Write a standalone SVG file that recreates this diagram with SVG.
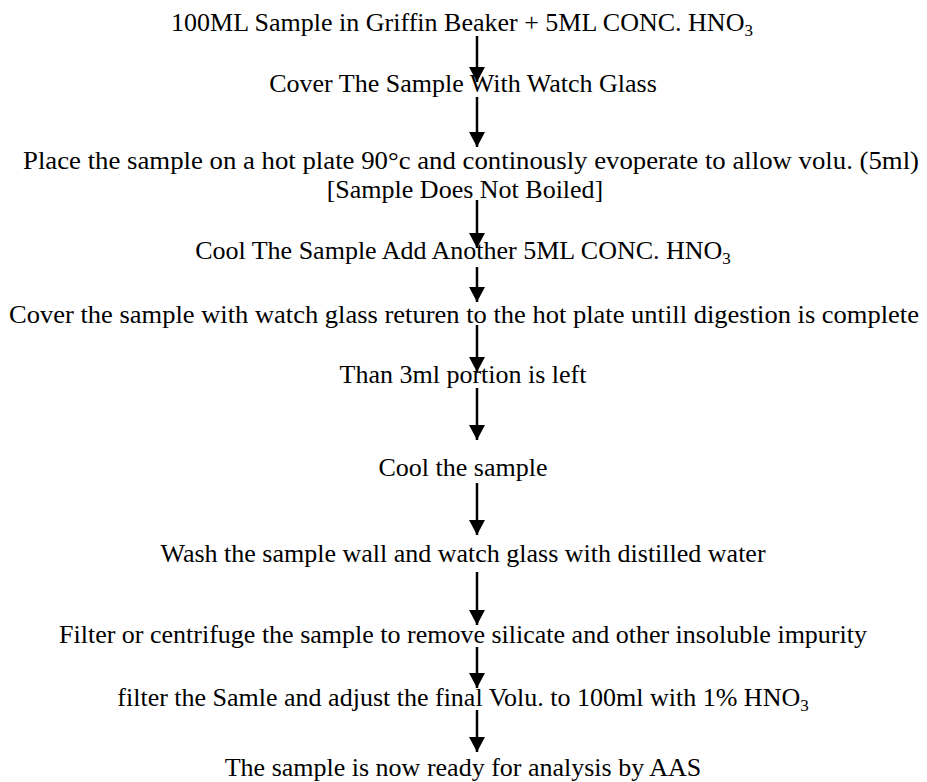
<svg xmlns="http://www.w3.org/2000/svg" width="927" height="782" viewBox="0 0 927 782">
<style>
text{font-family:"Liberation Serif","Times New Roman",serif;font-size:26px;fill:#000;text-anchor:middle}
.sub{font-size:17px}
.c{stroke:#000;stroke-width:2.5;fill:none}
</style>
<defs>
<marker id="ah" markerUnits="userSpaceOnUse" markerWidth="16" markerHeight="16" refX="15" refY="8" orient="auto">
<path d="M0,0 L15,8 L0,16 z" fill="#000"/>
</marker>
</defs>
<rect width="927" height="782" fill="#fff"/>
<g id="n1"><text x="462" y="31">100ML Sample in Griffin Beaker + 5ML CONC. HNO<tspan class="sub" dy="5">3</tspan></text></g>
<g id="n2"><text x="463" y="92">Cover The Sample With Watch Glass</text></g>
<g id="n3"><text x="471" y="169" textLength="896" lengthAdjust="spacingAndGlyphs">Place the sample on a hot plate 90°c and continously evoperate to allow volu. (5ml)</text><text x="465" y="198">[Sample Does Not Boiled]</text></g>
<g id="n4"><text x="463" y="259">Cool The Sample Add Another 5ML CONC. HNO<tspan class="sub" dy="5">3</tspan></text></g>
<g id="n5"><text x="464" y="323" textLength="910" lengthAdjust="spacingAndGlyphs">Cover the sample with watch glass returen to the hot plate untill digestion is complete</text></g>
<g id="n6"><text x="463" y="383">Than 3ml portion is left</text></g>
<g id="n7"><text x="463" y="476">Cool the sample</text></g>
<g id="n8"><text x="463" y="562">Wash the sample wall and watch glass with distilled water</text></g>
<g id="n9"><text x="463" y="643">Filter or centrifuge the sample to remove silicate and other insoluble impurity</text></g>
<g id="n10"><text x="463" y="706">filter the Samle and adjust the final Volu. to 100ml with 1% HNO<tspan class="sub" dy="5">3</tspan></text></g>
<g id="n11"><text x="463" y="776">The sample is now ready for analysis by AAS</text></g>
<g id="connectors">
<line class="c" x1="477" y1="36" x2="477" y2="82" marker-end="url(#ah)"/>
<line class="c" x1="477" y1="97" x2="477" y2="147" marker-end="url(#ah)"/>
<line class="c" x1="477" y1="200" x2="477" y2="248" marker-end="url(#ah)"/>
<line class="c" x1="477" y1="267" x2="477" y2="302" marker-end="url(#ah)"/>
<line class="c" x1="477" y1="325" x2="477" y2="372" marker-end="url(#ah)"/>
<line class="c" x1="477" y1="388" x2="477" y2="440" marker-end="url(#ah)"/>
<line class="c" x1="477" y1="483" x2="477" y2="535" marker-end="url(#ah)"/>
<line class="c" x1="477" y1="572" x2="477" y2="625" marker-end="url(#ah)"/>
<line class="c" x1="477" y1="647" x2="477" y2="688" marker-end="url(#ah)"/>
<line class="c" x1="477" y1="710" x2="477" y2="752" marker-end="url(#ah)"/>
</g>
</svg>
